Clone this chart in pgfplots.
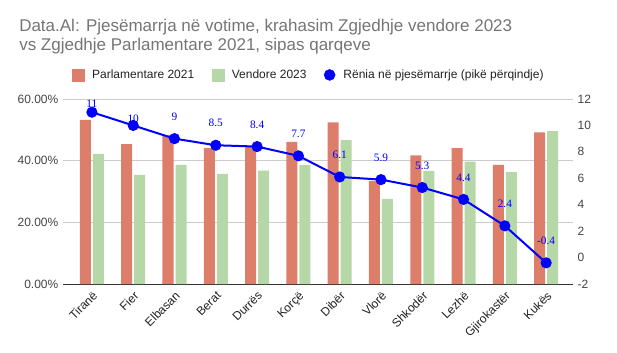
\documentclass[border=0pt]{standalone}
\usepackage{pgfplots}
\pgfplotsset{compat=1.18}
\usepackage{pgfplotstable}
\usepackage{fontspec}
\setmainfont{Liberation Sans}
\newfontfamily\labfont{Liberation Serif}
\definecolor{barred}{HTML}{DD7E6B}
\definecolor{bargreen}{HTML}{B6D7A8}
\definecolor{titlegray}{HTML}{757575}
\definecolor{ticklab}{HTML}{444444}
\definecolor{legtext}{HTML}{222222}
\definecolor{gridc}{HTML}{CCCCCC}
\definecolor{basec}{HTML}{333333}

\pgfplotstableread{
x p v
0 53.2 42.2
1 45.4 35.4
2 48.3 38.6
3 44.1 35.7
4 44.6 36.8
5 46.1 38.6
6 52.4 46.7
7 33.4 27.6
8 41.7 36.7
9 44.1 39.7
10 38.6 36.3
11 49.2 49.6
}\bardata

\pgfplotstableread{
x r lab dy
0 11 11 6
1 10 10 5
2 9 9 16.5
3 8.5 8.5 16.5
4 8.4 8.4 16.5
5 7.7 7.7 16.5
6 6.1 6.1 16.5
7 5.9 5.9 16.5
8 5.3 5.3 16.5
9 4.4 4.4 16.5
10 2.4 2.4 16.5
11 -0.4 -0.4 16.5
}\reniadata

\begin{document}
\begin{tikzpicture}
\path[use as bounding box] (0pt,0pt) rectangle (462.75pt,-264.75pt);
\node[anchor=base west, text=titlegray, font=\fontsize{12.75}{15}\selectfont, inner sep=0] at (14.25pt,-24pt) {Data.Al: Pjesëmarrja në votime, krahasim Zgjedhje vendore 2023};
\node[anchor=base west, text=titlegray, font=\fontsize{12.75}{15}\selectfont, inner sep=0] at (14.25pt,-37.875pt) {vs Zgjedhje Parlamentare 2021, sipas qarqeve};

\begin{axis}[
  at={(47.25pt,-74.25pt)}, anchor=north west,
  scale only axis, width=382.5pt, height=138.75pt,
  xmin=-0.7, xmax=11.65, ymin=0, ymax=60,
  ybar=1.5pt, bar width=8.25pt,
  xtick={0,...,11},
  xticklabels={Tiranë,Fier,Elbasan,Berat,Durrës,Korçë,Dibër,Vlorë,Shkodër,Lezhë,Gjirokastër,Kukës},
  x tick label style={rotate=45, anchor=north east, font=\fontsize{9}{10}\selectfont, text=legtext},
  ytick={0,20,40,60},
  yticklabel={\pgfmathprintnumber[fixed,fixed zerofill,precision=2]{\tick}\%},
  y tick label style={font=\fontsize{9}{10}\selectfont, text=ticklab},
  /pgf/number format/assume math mode=true,
  ymajorgrids, grid style={gridc, line width=0.75pt},
  major tick length=0pt,
  axis x line*=bottom, axis y line*=left,
  x axis line style={basec, line width=0.75pt, -},
  y axis line style={draw=none},
]
\addplot[fill=barred, draw=none] table[x=x, y=p] {\bardata};
\addplot[fill=bargreen, draw=none] table[x=x, y=v] {\bardata};
\end{axis}

\begin{axis}[
  at={(47.25pt,-74.25pt)}, anchor=north west,
  scale only axis, width=382.5pt, height=138.75pt,
  xmin=-0.7, xmax=11.65, ymin=-2, ymax=12,
  axis x line=none, axis y line*=right,
  y axis line style={draw=none},
  ytick={-2,0,...,12}, major tick length=0pt,
  y tick label style={anchor=west, font=\fontsize{9}{10}\selectfont, text=ticklab},
  /pgf/number format/assume math mode=true,
  legend columns=3,
  legend style={at={(0.4825,1.13)}, anchor=center, draw=none, fill=none,
    font=\fontsize{9}{11}\selectfont, text=legtext,
    /tikz/every even column/.append style={column sep=11pt}},
]
\addlegendimage{legend image code/.code={\fill[barred] (0pt,-4.5pt) rectangle (9pt,4.5pt); \path[draw=none,fill=none] (0pt,0pt) -- (13pt,0pt);}}
\addlegendentry{Parlamentare 2021}
\addlegendimage{legend image code/.code={\fill[bargreen] (0pt,-4.5pt) rectangle (9pt,4.5pt); \path[draw=none,fill=none] (0pt,0pt) -- (13pt,0pt);}}
\addlegendentry{Vendore 2023}
\addlegendimage{legend image code/.code={\fill[blue] (4.1pt,0pt) circle (4.1pt); \path[draw=none,fill=none] (0pt,0pt) -- (12.5pt,0pt);}}
\addlegendentry{Rënia në pjesëmarrje (pikë përqindje)}
\addplot[blue, line width=1.5pt, mark=*, mark size=3.4pt, forget plot,
  nodes near coords, point meta=explicit symbolic,
  visualization depends on={\thisrow{dy} \as \dy},
  nodes near coords style={anchor=center, yshift=\dy pt, text=blue, font=\labfont\fontsize{8.5}{9}\selectfont}]
  table[x=x, y=r, meta=lab] {\reniadata};
\end{axis}
\end{tikzpicture}
\end{document}
